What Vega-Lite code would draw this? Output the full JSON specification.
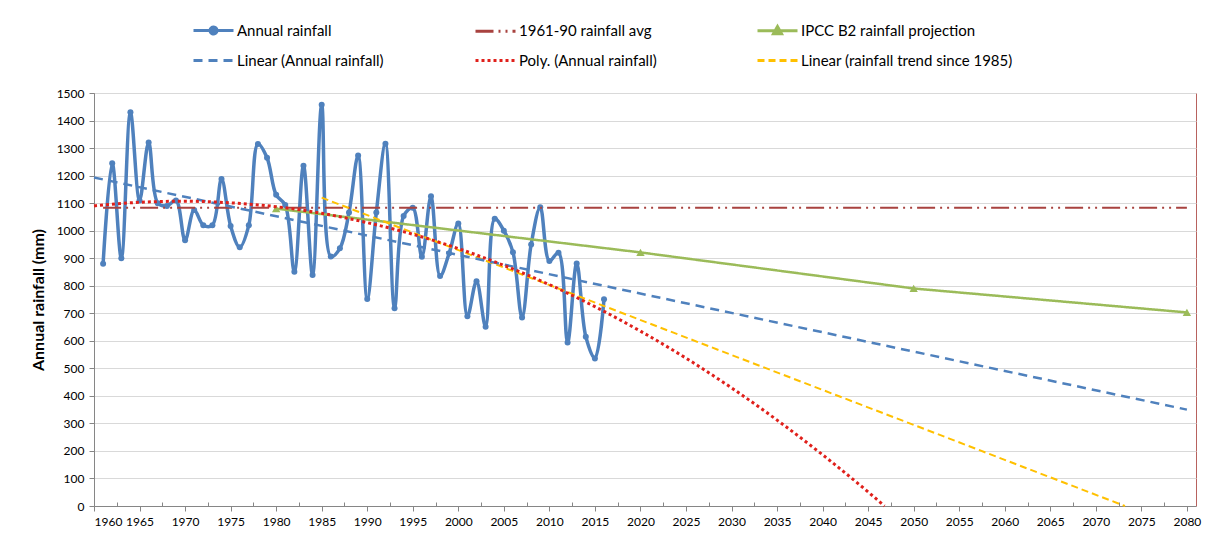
{
  "$schema": "https://vega.github.io/schema/vega-lite/v6.json",
  "width": 1102,
  "height": 413,
  "autosize": {"type": "none"},
  "padding": {"left": 94, "top": 93, "right": 22, "bottom": 36},
  "background": "white",
  "config": {
    "font": "Lato",
    "view": {"stroke": "#B8625E", "strokeWidth": 1},
    "axis": {
      "labelFont": "Lato",
      "labelFontSize": 12,
      "labelColor": "#000000",
      "domainColor": "#868686",
      "tickColor": "#868686",
      "titleFont": "Lato",
      "titleColor": "#000000"
    }
  },
  "datasets": {
    "annual": [
      {"year": 1961, "value": 880}, {"year": 1962, "value": 1245}, {"year": 1963, "value": 900},
      {"year": 1964, "value": 1430}, {"year": 1965, "value": 1110}, {"year": 1966, "value": 1320},
      {"year": 1967, "value": 1100}, {"year": 1968, "value": 1090}, {"year": 1969, "value": 1110},
      {"year": 1970, "value": 965}, {"year": 1971, "value": 1075}, {"year": 1972, "value": 1020},
      {"year": 1973, "value": 1020}, {"year": 1974, "value": 1188}, {"year": 1975, "value": 1017},
      {"year": 1976, "value": 940}, {"year": 1977, "value": 1020}, {"year": 1978, "value": 1315},
      {"year": 1979, "value": 1265}, {"year": 1980, "value": 1130}, {"year": 1981, "value": 1093},
      {"year": 1982, "value": 851}, {"year": 1983, "value": 1236}, {"year": 1984, "value": 839},
      {"year": 1985, "value": 1457}, {"year": 1986, "value": 906}, {"year": 1987, "value": 936},
      {"year": 1988, "value": 1066}, {"year": 1989, "value": 1273}, {"year": 1990, "value": 752},
      {"year": 1991, "value": 1066}, {"year": 1992, "value": 1316}, {"year": 1993, "value": 718},
      {"year": 1994, "value": 1053}, {"year": 1995, "value": 1083}, {"year": 1996, "value": 905},
      {"year": 1997, "value": 1125}, {"year": 1998, "value": 835}, {"year": 1999, "value": 918},
      {"year": 2000, "value": 1026}, {"year": 2001, "value": 689}, {"year": 2002, "value": 816},
      {"year": 2003, "value": 651}, {"year": 2004, "value": 1043}, {"year": 2005, "value": 1000},
      {"year": 2006, "value": 922}, {"year": 2007, "value": 685}, {"year": 2008, "value": 950},
      {"year": 2009, "value": 1085}, {"year": 2010, "value": 890}, {"year": 2011, "value": 920},
      {"year": 2012, "value": 594}, {"year": 2013, "value": 881}, {"year": 2014, "value": 615},
      {"year": 2015, "value": 536}, {"year": 2016, "value": 751}
    ],
    "avg": [
      {"year": 1961, "value": 1083, "series": "1961-90 rainfall avg"},
      {"year": 2080, "value": 1083, "series": "1961-90 rainfall avg"}
    ],
    "ipcc": [
      {"year": 1980, "value": 1080, "series": "IPCC B2 rainfall projection"},
      {"year": 2020, "value": 921, "series": "IPCC B2 rainfall projection"},
      {"year": 2050, "value": 790, "series": "IPCC B2 rainfall projection"},
      {"year": 2080, "value": 703, "series": "IPCC B2 rainfall projection"}
    ],
    "linearAll": [
      {"year": 1960, "value": 1193, "series": "Linear (Annual rainfall)"},
      {"year": 2080, "value": 350, "series": "Linear (Annual rainfall)"}
    ],
    "poly": [
      {"year": 1960, "value": 1090, "series": "Poly. (Annual rainfall)"},
      {"year": 1965, "value": 1103, "series": "Poly. (Annual rainfall)"},
      {"year": 1970, "value": 1107, "series": "Poly. (Annual rainfall)"},
      {"year": 1975, "value": 1101, "series": "Poly. (Annual rainfall)"},
      {"year": 1980, "value": 1087, "series": "Poly. (Annual rainfall)"},
      {"year": 1985, "value": 1063, "series": "Poly. (Annual rainfall)"},
      {"year": 1990, "value": 1029, "series": "Poly. (Annual rainfall)"},
      {"year": 1995, "value": 987, "series": "Poly. (Annual rainfall)"},
      {"year": 2000, "value": 935, "series": "Poly. (Annual rainfall)"},
      {"year": 2005, "value": 874, "series": "Poly. (Annual rainfall)"},
      {"year": 2010, "value": 804, "series": "Poly. (Annual rainfall)"},
      {"year": 2015, "value": 724, "series": "Poly. (Annual rainfall)"},
      {"year": 2020, "value": 635, "series": "Poly. (Annual rainfall)"},
      {"year": 2025, "value": 537, "series": "Poly. (Annual rainfall)"},
      {"year": 2030, "value": 429, "series": "Poly. (Annual rainfall)"},
      {"year": 2035, "value": 312, "series": "Poly. (Annual rainfall)"},
      {"year": 2040, "value": 186, "series": "Poly. (Annual rainfall)"},
      {"year": 2045, "value": 51, "series": "Poly. (Annual rainfall)"},
      {"year": 2046.8, "value": 0, "series": "Poly. (Annual rainfall)"}
    ],
    "linear1985": [
      {"year": 1985, "value": 1120, "series": "Linear (rainfall trend since 1985)"},
      {"year": 2073.2, "value": 0, "series": "Linear (rainfall trend since 1985)"}
    ],
    "legendOnly": [
      {"year": 1961, "value": 880, "series": "Annual rainfall"}
    ]
  },
  "encoding": {
    "x": {
      "field": "year",
      "type": "quantitative",
      "scale": {"domain": [1960, 2081], "nice": false, "zero": false},
      "axis": {
        "title": null,
        "values": [1960, 1962.5, 1965, 1967.5, 1970, 1972.5, 1975, 1977.5, 1980, 1982.5, 1985, 1987.5, 1990, 1992.5, 1995, 1997.5, 2000, 2002.5, 2005, 2007.5, 2010, 2012.5, 2015, 2017.5, 2020, 2022.5, 2025, 2027.5, 2030, 2032.5, 2035, 2037.5, 2040, 2042.5, 2045, 2047.5, 2050, 2052.5, 2055, 2057.5, 2060, 2062.5, 2065, 2067.5, 2070, 2072.5, 2075, 2077.5, 2080],
        "labelExpr": "datum.value % 5 === 0 ? format(datum.value, 'd') : ''",
        "labelOverlap": false,
        "grid": false,
        "tickSize": {"condition": {"test": "datum.value % 5 === 0", "value": 5}, "value": -4},
        "labelPadding": 5
      }
    },
    "y": {
      "field": "value",
      "type": "quantitative",
      "scale": {"domain": [0, 1500], "nice": false},
      "axis": {
        "title": "Annual rainfall (mm)",
        "titleFontSize": 16,
        "titleFontWeight": "bold",
        "titlePadding": 10,
        "format": "d",
        "values": [0, 100, 200, 300, 400, 500, 600, 700, 800, 900, 1000, 1100, 1200, 1300, 1400, 1500],
        "grid": true,
        "gridColor": "#D9D9D9",
        "tickSize": 5,
        "labelPadding": 5
      }
    }
  },
  "layer": [
    {
      "data": {"name": "annual"},
      "mark": {"type": "line", "interpolate": "catmull-rom", "stroke": "#4F81BD", "strokeWidth": 3.5}
    },
    {
      "data": {"name": "annual"},
      "mark": {"type": "point", "shape": "circle", "filled": true, "size": 36, "color": "#4F81BD", "opacity": 1}
    },
    {
      "data": {"name": "avg"},
      "mark": {"type": "line", "strokeWidth": 2},
      "encoding": {
        "color": {"field": "series"},
        "strokeDash": {"field": "series"}
      }
    },
    {
      "data": {"name": "ipcc"},
      "mark": {"type": "line", "strokeWidth": 2.5},
      "encoding": {
        "color": {"field": "series"},
        "strokeDash": {"field": "series"}
      }
    },
    {
      "data": {"name": "ipcc"},
      "mark": {"type": "point", "shape": "triangle-up", "filled": true, "size": 70, "color": "#9BBB59", "opacity": 1}
    },
    {
      "data": {"name": "linear1985"},
      "mark": {"type": "line", "strokeWidth": 2},
      "encoding": {
        "color": {"field": "series"},
        "strokeDash": {"field": "series"}
      }
    },
    {
      "data": {"name": "linearAll"},
      "mark": {"type": "line", "strokeWidth": 2.5},
      "encoding": {
        "color": {"field": "series"},
        "strokeDash": {"field": "series"}
      }
    },
    {
      "data": {"name": "poly"},
      "mark": {"type": "line", "strokeWidth": 3, "interpolate": "monotone"},
      "encoding": {
        "color": {
          "field": "series",
          "type": "nominal",
          "scale": {
            "domain": ["Annual rainfall", "1961-90 rainfall avg", "IPCC B2 rainfall projection", "Linear (Annual rainfall)", "Poly. (Annual rainfall)", "Linear (rainfall trend since 1985)"],
            "range": ["#4F81BD", "#A8423F", "#9BBB59", "#4F81BD", "#E0201B", "#FFC000"]
          },
          "legend": {
            "title": null,
            "orient": "none",
            "legendX": 108,
            "legendY": -74,
            "direction": "horizontal",
            "columns": 3,
            "gridAlign": "all",
            "columnPadding": 20,
            "rowPadding": 9,
            "padding": 0,
            "labelFont": "Lato",
            "labelFontSize": 15,
            "labelColor": "#000000",
            "labelLimit": 400,
            "symbolSize": 400,
            "symbolStrokeWidth": 3,
            "labelOffset": 12,
            "encode": {
              "symbols": {
                "update": {
                  "shape": {"signal": "datum.value === 'Annual rainfall' ? 'M-2,0H2M0.35,0A0.35,0.35 0 1,1 -0.35,0A0.35,0.35 0 1,1 0.35,0Z' : datum.value === 'IPCC B2 rainfall projection' ? 'M-2,0H2M0,-0.42L0.4,0.3L-0.4,0.3Z' : 'M-2,0H2'"},
                  "fill": {"signal": "datum.value === 'Annual rainfall' ? '#4F81BD' : datum.value === 'IPCC B2 rainfall projection' ? '#9BBB59' : 'transparent'"}
                }
              }
            }
          }
        },
        "strokeDash": {
          "field": "series",
          "type": "nominal",
          "scale": {
            "domain": ["Annual rainfall", "1961-90 rainfall avg", "IPCC B2 rainfall projection", "Linear (Annual rainfall)", "Poly. (Annual rainfall)", "Linear (rainfall trend since 1985)"],
            "range": [[1, 0], [18, 5, 2, 5, 2, 5], [1, 0], [9, 6], [3, 3], [7, 4]]
          }
        }
      }
    },
    {
      "data": {"name": "legendOnly"},
      "mark": {"type": "line", "strokeWidth": 3.5, "opacity": 0},
      "encoding": {
        "color": {"field": "series"},
        "strokeDash": {"field": "series"}
      }
    }
  ]
}
